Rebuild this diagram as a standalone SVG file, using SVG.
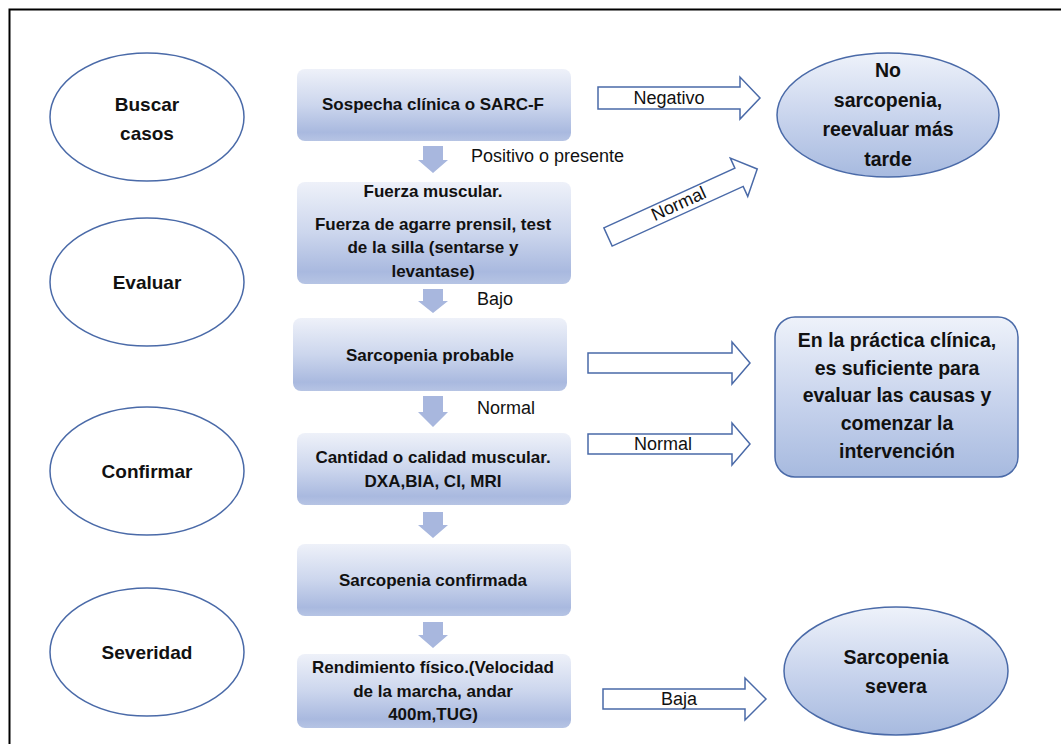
<svg xmlns="http://www.w3.org/2000/svg" width="1061" height="744" viewBox="0 0 1061 744">
<style>
.frame{fill:none;stroke:#000;stroke-width:2}
.stage{fill:#fff;stroke:#4a6aa8;stroke-width:1.5}
.box{fill:url(#boxg)}
.res{fill:url(#resg);stroke:#4a6aa8;stroke-width:1.5}
.down{fill:#a8b7de}
.flow{fill:#fff;stroke:#4a6aa8;stroke-width:1.5}
text{font-family:"Liberation Sans",Arial,sans-serif;fill:#111;text-anchor:middle}
.b{font-weight:bold;font-size:17px}
.e{font-weight:bold;font-size:19px}
.r{font-weight:bold;font-size:19.5px}
.l{font-size:18px;text-anchor:start}
.lc{font-size:18px}
</style>
<defs>
<linearGradient id="boxg" x1="0" y1="0" x2="0" y2="1">
<stop offset="0" stop-color="#eef1f9"/>
<stop offset="0.5" stop-color="#ccd6ed"/>
<stop offset="0.88" stop-color="#a9b9df"/>
<stop offset="1" stop-color="#b6c4e4"/>
</linearGradient>
<linearGradient id="resg" x1="0" y1="0" x2="0" y2="1">
<stop offset="0" stop-color="#eef2fa"/>
<stop offset="0.55" stop-color="#c6d2ec"/>
<stop offset="1" stop-color="#a7badf"/>
</linearGradient>
</defs>
<rect class="frame" x="9.5" y="9.5" width="1060" height="740"/>

<g id="stage-buscar"><ellipse class="stage" cx="147" cy="117" rx="97" ry="64"/><text class="e" x="147" y="111">Buscar</text><text class="e" x="147" y="140">casos</text></g>
<g id="stage-evaluar"><ellipse class="stage" cx="147" cy="282" rx="97" ry="64"/><text class="e" x="147" y="289">Evaluar</text></g>
<g id="stage-confirmar"><ellipse class="stage" cx="147" cy="471" rx="97" ry="64"/><text class="e" x="147" y="478">Confirmar</text></g>
<g id="stage-severidad"><ellipse class="stage" cx="147" cy="652" rx="97" ry="64"/><text class="e" x="147" y="659">Severidad</text></g>

<g id="box-sospecha"><rect class="box" x="297" y="69" width="274" height="72" rx="8"/><text class="b" x="433" y="110">Sospecha clínica o SARC-F</text></g>
<g id="box-fuerza"><rect class="box" x="297" y="182" width="274" height="102" rx="8"/><text class="b" x="433" y="197">Fuerza muscular.</text><text class="b" x="433" y="230">Fuerza de agarre prensil, test</text><text class="b" x="433" y="253">de la silla (sentarse y</text><text class="b" x="433" y="277">levantase)</text></g>
<g id="box-probable"><rect class="box" x="293" y="318" width="274" height="73" rx="8"/><text class="b" x="430" y="361">Sarcopenia probable</text></g>
<g id="box-cantidad"><rect class="box" x="297" y="433" width="274" height="72" rx="8"/><text class="b" x="433" y="463">Cantidad o calidad muscular.</text><text class="b" x="433" y="487">DXA,BIA, CI, MRI</text></g>
<g id="box-confirmada"><rect class="box" x="297" y="544" width="274" height="72" rx="8"/><text class="b" x="433" y="586">Sarcopenia confirmada</text></g>
<g id="box-rendimiento"><rect class="box" x="297" y="654" width="274" height="74" rx="8"/><text class="b" x="433" y="673">Rendimiento físico.(Velocidad</text><text class="b" x="433" y="697">de la marcha, andar</text><text class="b" x="433" y="720">400m,TUG)</text></g>

<g id="res-no"><ellipse class="res" cx="888" cy="115" rx="111" ry="62"/><text class="r" x="888" y="77">No</text><text class="r" x="888" y="107">sarcopenia,</text><text class="r" x="888" y="136">reevaluar más</text><text class="r" x="888" y="166">tarde</text></g>
<g id="res-practica"><rect class="res" x="775" y="317" width="243" height="160" rx="20"/><text class="r" x="897" y="347">En la práctica clínica,</text><text class="r" x="897" y="375">es suficiente para</text><text class="r" x="897" y="402">evaluar las causas y</text><text class="r" x="897" y="430">comenzar la</text><text class="r" x="897" y="458">intervención</text></g>
<g id="res-severa"><ellipse class="res" cx="896" cy="671" rx="112" ry="64"/><text class="r" x="896" y="664">Sarcopenia</text><text class="r" x="896" y="693">severa</text></g>

<g id="connectors">
<path class="down" d="M423,146 H443 V160 H448 L433,173 L418,160 H423 Z"/>
<path class="down" d="M423,289 H443 V301 H448 L433,313 L418,301 H423 Z"/>
<path class="down" d="M423,396 H443 V412 H448 L433,427 L418,412 H423 Z"/>
<path class="down" d="M423,512 H443 V525 H448 L433,538 L418,525 H423 Z"/>
<path class="down" d="M423,622 H443 V635 H448 L433,648 L418,635 H423 Z"/>
<text class="l" x="471" y="162">Positivo o presente</text>
<text class="l" x="477" y="305">Bajo</text>
<text class="l" x="477" y="414">Normal</text>

<path class="flow" d="M598,87 H740 V77 L760,98 L740,119 V109 H598 Z"/>
<text class="lc" x="669" y="104">Negativo</text>
<g transform="translate(608,237) rotate(-24.5)"><path class="flow" d="M0,-10 H144 V-21 L164,0 L144,21 V10 H0 Z"/><text class="lc" x="78" y="5">Normal</text></g>
<path class="flow" d="M588,353 H732 V342 L750,363 L732,384 V373 H588 Z"/>
<path class="flow" d="M588,434 H732 V423 L750,444 L732,465 V454 H588 Z"/>
<text class="lc" x="663" y="450">Normal</text>
<path class="flow" d="M603,689 H745 V678 L766,699 L745,720 V709 H603 Z"/>
<text class="lc" x="679" y="705">Baja</text>
</g>
</svg>
